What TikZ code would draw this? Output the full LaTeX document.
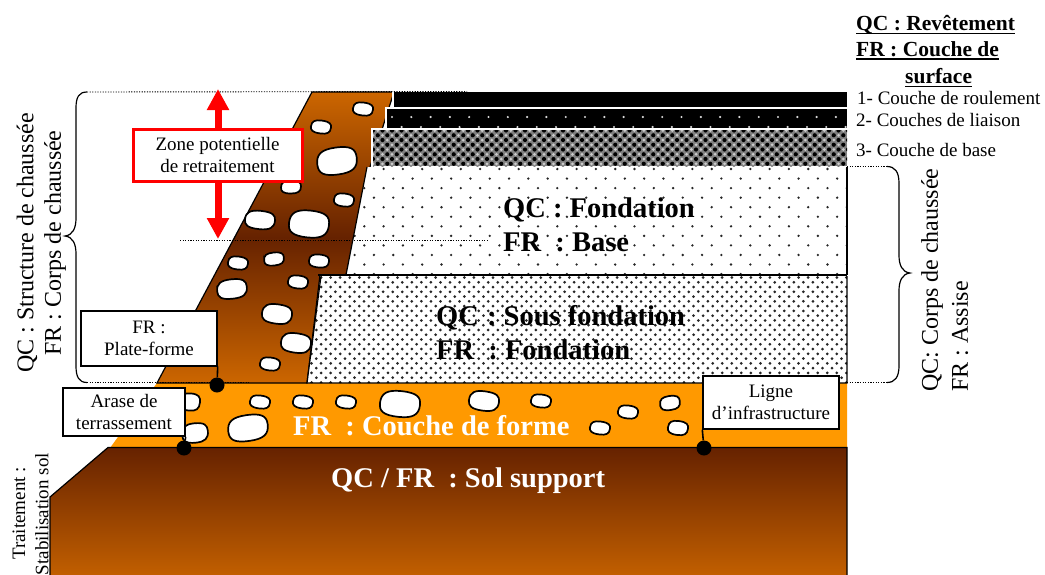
\documentclass[tikz,border=0pt]{standalone}
\usepackage{fontspec}
\setmainfont{Liberation Serif}
\usetikzlibrary{arrows.meta}
\definecolor{rampC}{HTML}{CC6600}
\definecolor{darkC}{HTML}{662200}
\definecolor{orangeC}{HTML}{FF9900}
\newcommand{\ulbox}[1]{\setbox0\hbox{#1}\leavevmode\rlap{\rule[-3.6pt]{\wd0}{1.8pt}}\box0}
\newcommand{\stone}[5]{%
  \begin{scope}[shift={(#1,#2)},rotate=#5]
  \draw[stoneline] (-#3,0.1*#4) .. controls (-#3,-0.75*#4) and (-0.7*#3,-1.08*#4) .. (0,-1.08*#4)
    .. controls (0.8*#3,-1.08*#4) and (#3,-0.75*#4) .. (#3,-0.1*#4)
    .. controls (#3,0.75*#4) and (0.7*#3,1.08*#4) .. (0,1.08*#4)
    .. controls (-0.8*#3,1.08*#4) and (-#3,0.75*#4) .. cycle;
  \end{scope}}
\tikzset{
  stoneline/.style={fill=white,draw=black,line width=1.7pt},
  infobox/.style={draw=black,fill=white,line width=1.4pt,align=center,inner sep=0pt,font=\fontsize{19}{22.5}\selectfont},
  redbox/.style={draw=red,fill=white,line width=3pt,align=center,inner sep=0pt,font=\fontsize{19}{22}\selectfont},
  dotm/.style={circle,fill=black,minimum size=15pt,inner sep=0pt},
  lead/.style={line width=1.6pt,draw=black},
  dotline/.style={line width=0.9pt,dash pattern=on 1.2pt off 1.4pt,draw=black},
  bracel/.style={line width=1.2pt,draw=black},
  biglabel/.style={font=\fontsize{28.5}{30}\selectfont\bfseries,anchor=base west,inner sep=0pt},
  rotlabel/.style={rotate=90,font=\fontsize{24}{26}\selectfont,inner sep=0pt},
  sidelabel/.style={font=\fontsize{19}{20}\selectfont,anchor=west,inner sep=0pt},
  headlabel/.style={font=\fontsize{21.5}{23}\selectfont\bfseries,anchor=west,inner sep=0pt},
}
\begin{document}
\begin{tikzpicture}[x=1pt,y=-1pt]
\useasboundingbox (0,0) rectangle (1045,574);
% ground
\fill[orangeC] (157,383) -- (847,383) -- (847,448) -- (110,448) -- cycle;
\shadedraw[top color=darkC,bottom color=rampC,draw=black,line width=1.2pt]
  (108,447.5) -- (847,447.5) -- (847,590) -- (50,590) -- (50,497) -- cycle;
% ramp
\shadedraw[top color=rampC,bottom color=rampC,middle color=darkC,draw=black,line width=1.2pt]
  (312,92) -- (394,92) -- (370,167) -- (346,275) -- (320,275) -- (307,383) -- (157,383) -- cycle;
% stones ramp
\stone{363}{109}{10}{6}{-8}
\stone{321}{127}{10}{6}{-8}
\stone{337}{161}{20}{12.5}{8}
\stone{291}{187}{10}{6}{0}
\stone{344}{200}{10}{6}{-8}
\stone{260}{220}{15}{8.5}{-6}
\stone{309}{224}{20}{12.5}{-6}
\stone{238}{263}{10}{6}{-8}
\stone{274}{259}{10}{6}{6}
\stone{319}{261}{10}{6}{-6}
\stone{298}{282}{10}{6}{-8}
\stone{232}{289}{15}{9}{6}
\stone{277}{314}{15}{9}{-8}
\stone{296}{343}{15}{9}{-8}
\stone{270}{364}{10}{6}{-8}
% stones orange
\stone{190}{402}{10}{8}{-6}
\stone{195}{433}{13}{9}{6}
\stone{260}{402}{10}{6}{-8}
\stone{303}{402}{10}{6}{-8}
\stone{346}{402}{10}{6}{-8}
\stone{248}{428}{20}{12}{8}
\stone{400}{404}{20}{12}{-6}
\stone{484}{401}{15}{9}{-8}
\stone{541}{401}{10}{6}{-8}
\stone{600}{428}{10}{6}{-8}
\stone{628}{412}{10}{6}{-8}
\stone{670}{403}{10}{6.5}{8}
\stone{678}{428}{10}{6.5}{-8}
% base layer
\begin{scope}
\clip (367,167) -- (847,167) -- (847,275) -- (346,275) -- cycle;
\fill[white] (340,160) rectangle (850,280);
\foreach \r in {0,...,11}{
  \pgfmathsetmacro{\yy}{169+9.55*\r}
  \pgfmathsetmacro{\off}{mod(\r,2)==0?0:9.65}
  \foreach \c in {0,...,26}{
    \fill[black!85] ({345+\off+19.3*\c},\yy) circle (1.3);
  }
}
\end{scope}
\draw[black,line width=1.2pt] (367,167) -- (346,275);
\draw[black,line width=1.5pt] (847,167) -- (847,275);
% sub base layer
\begin{scope}
\clip (321,276) -- (847,276) -- (847,383) -- (307,383) -- cycle;
\fill[white] (300,270) rectangle (850,390);
\foreach \r in {0,...,23}{
  \pgfmathsetmacro{\yy}{277.5+4.77*\r}
  \pgfmathsetmacro{\off}{mod(\r,2)==0?0:4.77}
  \foreach \c in {0,...,58}{
    \fill[black!85] ({302+\off+9.55*\c},\yy) circle (1.5);
  }
}
\end{scope}
\draw[black,line width=1.2pt] (321,276) -- (307,383) -- (847,383) -- (847,276);
\draw[black,line width=2pt] (318,275) -- (847,275);
% surface layers
\fill[white] (371,128) rectangle (850,167);
\fill[white] (385,107) rectangle (850,129);
\fill[white] (392,90.5) rectangle (850,108);
\fill[black] (394,92) rectangle (847,106.5);
\fill[black] (387,109) rectangle (847,128);
\begin{scope}
\clip (387,109) rectangle (847,128);
\foreach \r/\yy/\off in {0/117/0,1/127/9.65}{
  \foreach \c in {0,...,24}{\fill[white!85!black] ({392+\off+19.3*\c},\yy) circle (1.2);}
}
\end{scope}
\begin{scope}
\clip (373,130) rectangle (847,166);
\fill[black!50] (373,130) rectangle (847,166);
\foreach \r in {0,...,8}{
  \pgfmathsetmacro{\yy}{130.5+4.75*\r}
  \pgfmathsetmacro{\off}{mod(\r,2)==0?0:4.75}
  \foreach \c in {0,...,50}{
    \fill[black] ({373+\off+9.5*\c},\yy) circle (2.1);
    \fill[white!80!black] ({377.75-\off+9.5*\c},\yy) circle (1.5);
  }
}
\end{scope}
% dotted guides
\coordinate (lbT) at (87,92);
\coordinate (lbB) at (87,382.5);
\coordinate (lbTip) at (65,236);
\coordinate (rbT) at (887,166.5);
\coordinate (rbB) at (887,382.5);
\coordinate (rbTip) at (910,273);
\coordinate (topEnd) at (467,91.5);
\coordinate (botEnd) at (250,382.5);
\coordinate (midA) at (180,240);
\coordinate (midB) at (487,240);
\coordinate (rT) at (847,166.5);
\coordinate (rB) at (847,382.5);
\draw[dotline] (lbT) -- (topEnd);
\draw[dotline] (lbB) -- (botEnd);
\draw[dotline] (midA) -- (midB);
\draw[dotline] (rT) -- (rbT);
\draw[dotline] (rB) -- (rbB);
% braces
\draw[bracel] (lbT) .. controls (79,92) and (76,97) .. (76,108) -- (76,218)
  .. controls (76,228) and (73,235) .. (lbTip)
  .. controls (73,237) and (76,244) .. (76,254) -- (76,366)
  .. controls (76,377) and (79,382.5) .. (lbB);
\draw[bracel] (rbT) .. controls (895,166.5) and (899,172) .. (899,183) -- (899,255)
  .. controls (899,265) and (902,272) .. (rbTip)
  .. controls (902,274) and (899,281) .. (899,291) -- (899,366)
  .. controls (899,377) and (895,382.5) .. (rbB);
% red arrow
\coordinate (arT) at (218,89);
\coordinate (arB) at (218,239);
\draw[red,line width=7pt,{Triangle[width=21pt,length=21pt]}-{Triangle[width=21pt,length=21pt]}] (arT) -- (arB);
% boxes
\node[redbox,minimum width=169pt,minimum height=52pt] (zone) at (217.5,155) {Zone potentielle\\de retraitement};
\node[infobox,minimum width=136pt,minimum height=55pt] (plate) at (149,338.5) {FR :\\Plate-forme};
\node[infobox,minimum width=122pt,minimum height=48pt] (arase) at (124,412) {Arase de\\terrassement};
\node[infobox,minimum width=136pt,minimum height=53pt] (ligne) at (771,402.5) {Ligne\\d’infrastructure};
\node[dotm] (dp) at (217,385) {};
\node[dotm] (da) at (184,448) {};
\node[dotm] (dl) at (704,448) {};
\draw[lead] (plate.south east) -- (dp);
\draw[lead] (arase.south east) -- (da);
\draw[lead] (ligne.south west) -- (dl);
% labels
\node[biglabel] (t1) at (503,217) {QC : Fondation};
\node[biglabel] (t2) at (503,251) {FR\ \ : Base};
\node[biglabel] (t3) at (436,325) {QC\ \kern1pt: Sous fondation};
\node[biglabel] (t4) at (436,359) {FR\ \ : Fondation};
\node[biglabel,text=white] (t5) at (293,435) {FR\ \ : Couche de forme};
\node[biglabel,text=white] (t6) at (331,487) {QC / FR\ \ : Sol support};
\node[rotlabel] (r1) at (27,243) {QC : Structure de chaussée};
\node[rotlabel] (r2) at (55,243) {FR : Corps de chaussée};
\node[rotlabel,anchor=west] (r3) at (932,392) {QC: Corps de chaussée};
\node[rotlabel,anchor=west] (r4) at (960,392) {FR : Assise};
\node[rotlabel,anchor=east,font=\fontsize{19}{20}\selectfont] (r5) at (19,467) {Traitement :};
\node[rotlabel,anchor=east,font=\fontsize{19}{20}\selectfont] (r6) at (42,453) {Stabilisation sol};
\node[headlabel] (h1) at (856,25) {\ulbox{QC : Revêtement}};
\node[headlabel] (h2) at (856,51) {\ulbox{FR : Couche de}};
\node[headlabel] (h3) at (905,78) {\ulbox{surface}};
\node[sidelabel] (s1) at (857,98) {1- Couche de roulement};
\node[sidelabel] (s2) at (856,120) {2- Couches de liaison};
\node[sidelabel] (s3) at (856,150) {3- Couche de base};
\end{tikzpicture}
\end{document}
